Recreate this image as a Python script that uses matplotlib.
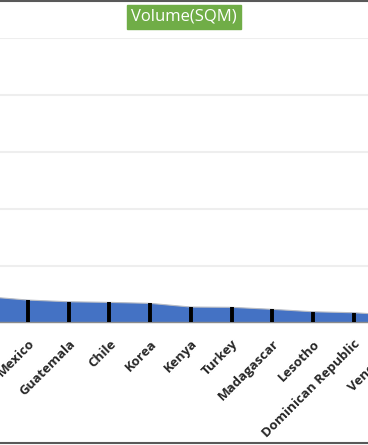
import numpy as np
import matplotlib.pyplot as plt
from matplotlib.lines import Line2D

# countries (first one sits left of the visible crop, label not visible)
countries = ['', 'Mexico', 'Guatemala', 'Chile', 'Korea', 'Kenya', 'Turkey',
             'Madagascar', 'Lesotho', 'Dominican Republic', 'Venezuela']
volume = [453, 395, 365, 354, 337, 272, 267, 232, 189, 172, 130]

plt.rcParams['font.family'] = ['Open Sans', 'DejaVu Sans']

fig = plt.figure(figsize=(3.68, 4.45), dpi=100)
# axes run past both figure edges: the chart is a crop of a wider one
ax = fig.add_axes([-0.1495, 0.2753, 1.299, 0.6382])

x = np.arange(len(countries))
ax.fill_between(x, volume, 0, color='#4472C4', zorder=2, linewidth=0)
ax.plot(x, volume, color='#B8BCC4', lw=0.8, zorder=2)
ax.vlines(x, 0, volume, color='black', lw=2.8, zorder=3)

ax.set_xticks(x)
ax.set_xticklabels(countries, rotation=45, ha='right', va='top',
                   rotation_mode='anchor', fontsize=9.5, fontweight='bold',
                   color='#262626')
ax.set_yticks(np.arange(0, 5001, 1000))
ax.set_xlim(-1.039, 10.705)
ax.set_ylim(0, 5000)
ax.yaxis.grid(True, color='#EEEEEE', lw=1.5, zorder=0)
ax.set_axisbelow(True)
ax.tick_params(axis='y', left=False, labelleft=False)
ax.tick_params(axis='x', bottom=False, pad=7)
for s in ['left', 'right', 'top']:
    ax.spines[s].set_visible(False)
ax.spines['bottom'].set_color('#8C8C8C')
ax.spines['bottom'].set_linewidth(1.0)

fig.text(0.5, 0.962, 'Volume(SQM)', ha='center', va='center', fontsize=12,
         color='white',
         bbox=dict(boxstyle='square,pad=0.25', facecolor='#70AD47',
                   edgecolor='#70AD47'))

# frame edges of the cropped chart
fig.add_artist(Line2D([0, 1], [0.998, 0.998], color='#595959', lw=1.5,
                      transform=fig.transFigure))
fig.add_artist(Line2D([0, 1], [0.004, 0.004], color='#595959', lw=1.5,
                      transform=fig.transFigure))

fig.savefig('out.png', dpi=100)
